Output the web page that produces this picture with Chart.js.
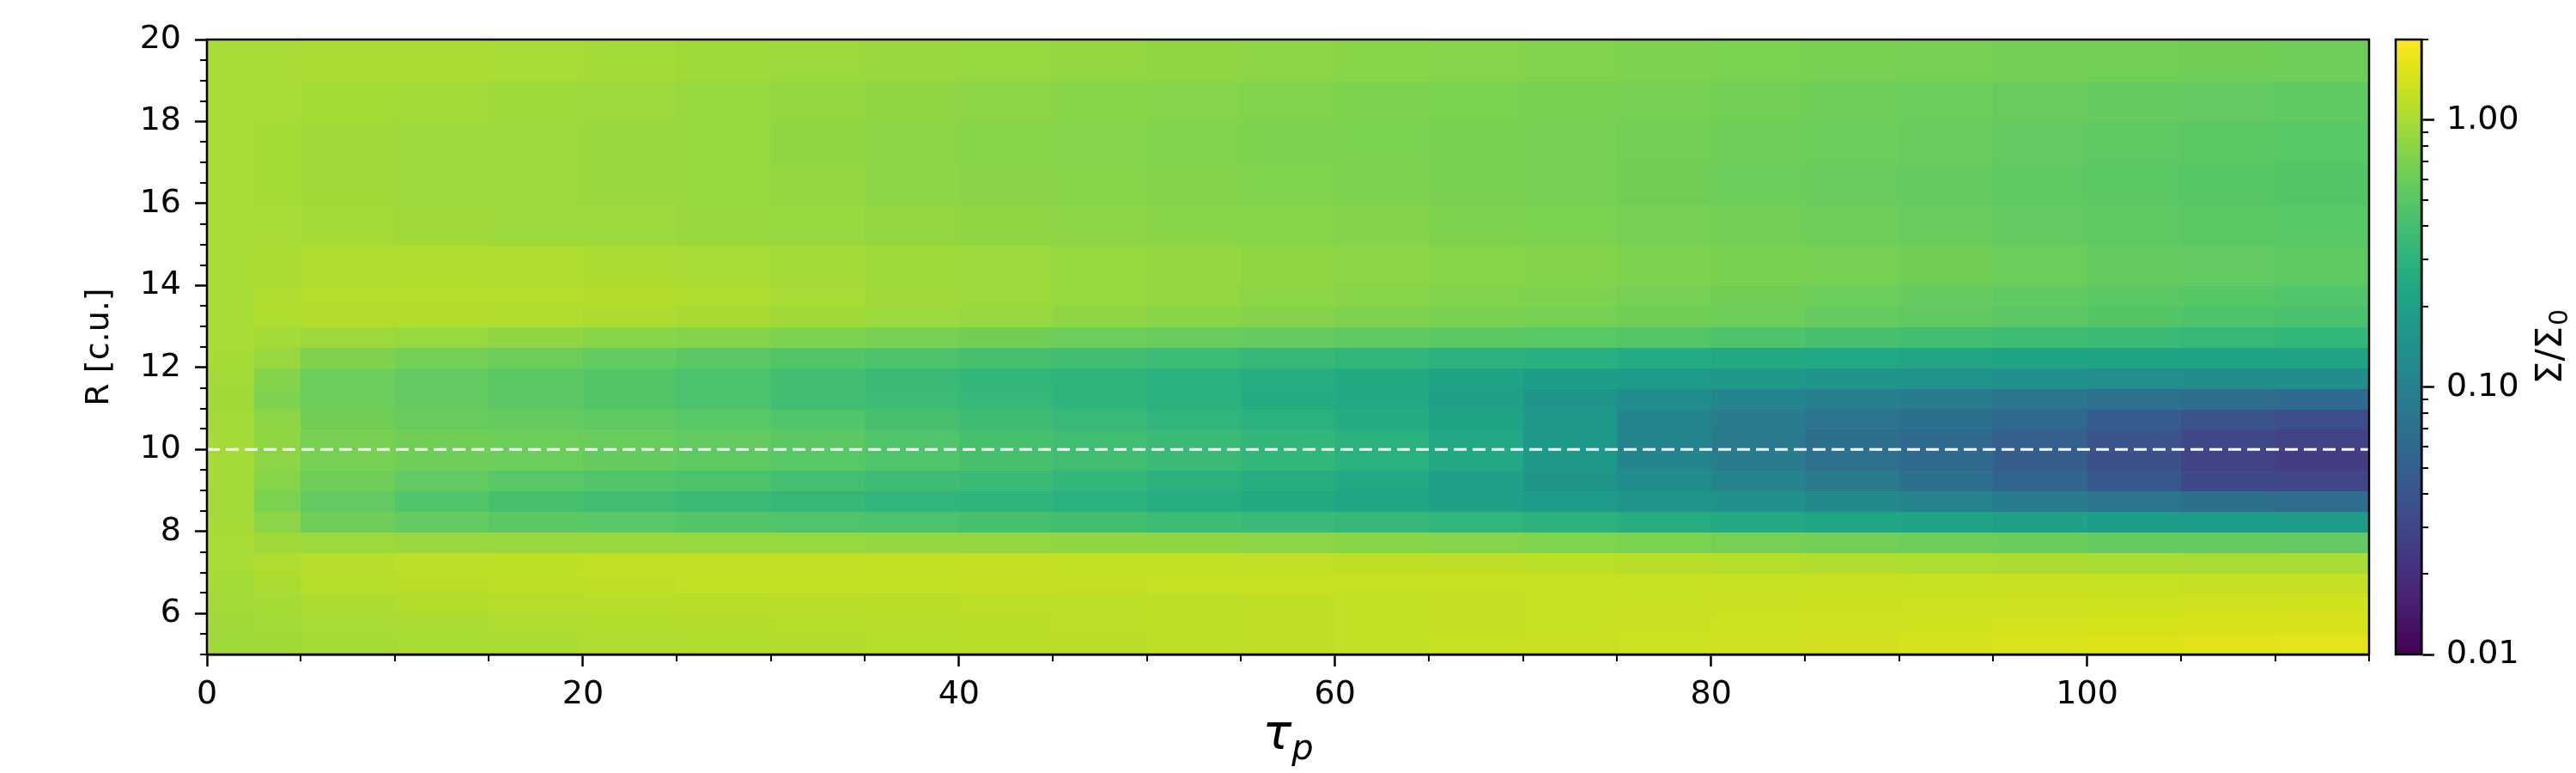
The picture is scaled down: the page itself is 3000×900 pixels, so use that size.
<!DOCTYPE html>
<html>
<head>
<meta charset="utf-8">
<script src="https://cdn.jsdelivr.net/npm/chart.js@4.4.1/dist/chart.umd.min.js"></script>
<style>
  html, body { margin: 0; padding: 0; background: #fff; }
  #wrap { position: relative; width: 3000px; height: 900px; }
  #heat { position: absolute; left: 0; top: 0; }
  #cbar { position: absolute; left: 2760px; top: 0; }
</style>
</head>
<body>
<div id="wrap">
  <canvas id="heat" width="2800" height="900"></canvas>
  <canvas id="cbar" width="240" height="900"></canvas>
</div>
<script>
// bin edges of the map: time (tau_p) and radius R [c.u.]
const tauEdges = [0, 2.5, 5, 10, 15, 20, 25, 30, 35, 40, 45, 50, 55, 60, 65, 70, 75, 80, 85, 90, 95, 100, 105, 110, 115];
const rEdges = [5, 5.5, 6, 6.5, 7, 7.5, 8, 8.5, 9, 9.5, 10, 10.5, 11, 11.5, 12, 12.5, 13, 13.5, 14, 15, 16, 17, 18, 19, 20];

// Sigma/Sigma_0 per cell, one row per R bin (bottom row first), one value per tau bin
const sigma = [
  [0.94, 0.95, 0.98, 1.0, 1.03, 1.05, 1.07, 1.09, 1.11, 1.13, 1.15, 1.18, 1.2, 1.23, 1.26, 1.29, 1.32, 1.35, 1.38, 1.42, 1.46, 1.5, 1.55, 1.6],
  [0.95, 0.96, 1.0, 1.03, 1.05, 1.07, 1.08, 1.1, 1.12, 1.14, 1.16, 1.18, 1.2, 1.22, 1.25, 1.27, 1.3, 1.32, 1.35, 1.37, 1.39, 1.41, 1.43, 1.45],
  [0.96, 0.98, 1.03, 1.08, 1.1, 1.12, 1.13, 1.14, 1.15, 1.16, 1.17, 1.18, 1.2, 1.22, 1.24, 1.26, 1.28, 1.3, 1.31, 1.32, 1.33, 1.34, 1.35, 1.36],
  [0.98, 1.02, 1.1, 1.15, 1.18, 1.2, 1.22, 1.23, 1.24, 1.25, 1.25, 1.26, 1.27, 1.28, 1.28, 1.28, 1.28, 1.28, 1.28, 1.28, 1.27, 1.26, 1.25, 1.25],
  [1.0, 1.05, 1.12, 1.17, 1.2, 1.22, 1.23, 1.23, 1.23, 1.23, 1.22, 1.22, 1.21, 1.2, 1.18, 1.16, 1.13, 1.1, 1.07, 1.05, 1.03, 1.02, 1.01, 1.0],
  [1.0, 0.95, 0.9, 0.88, 0.88, 0.88, 0.87, 0.86, 0.85, 0.84, 0.83, 0.82, 0.8, 0.78, 0.76, 0.73, 0.7, 0.67, 0.64, 0.61, 0.59, 0.57, 0.56, 0.55],
  [0.97, 0.8, 0.62, 0.56, 0.52, 0.5, 0.48, 0.46, 0.44, 0.42, 0.4, 0.38, 0.36, 0.34, 0.32, 0.3, 0.27, 0.25, 0.23, 0.22, 0.2, 0.19, 0.18, 0.18],
  [0.96, 0.7, 0.55, 0.47, 0.42, 0.39, 0.36, 0.34, 0.32, 0.31, 0.29, 0.27, 0.25, 0.23, 0.2, 0.18, 0.16, 0.14, 0.12, 0.105, 0.09, 0.08, 0.07, 0.065],
  [0.97, 0.76, 0.62, 0.55, 0.5, 0.47, 0.44, 0.41, 0.38, 0.36, 0.33, 0.3, 0.27, 0.24, 0.2, 0.16, 0.13, 0.105, 0.088, 0.07, 0.055, 0.042, 0.032, 0.03],
  [0.97, 0.8, 0.66, 0.62, 0.6, 0.57, 0.53, 0.5, 0.46, 0.42, 0.39, 0.36, 0.33, 0.29, 0.24, 0.17, 0.11, 0.09, 0.072, 0.06, 0.048, 0.036, 0.028, 0.026],
  [0.97, 0.82, 0.68, 0.63, 0.6, 0.58, 0.55, 0.52, 0.46, 0.42, 0.39, 0.36, 0.33, 0.29, 0.24, 0.17, 0.11, 0.085, 0.07, 0.06, 0.05, 0.04, 0.032, 0.028],
  [0.96, 0.8, 0.63, 0.58, 0.56, 0.54, 0.5, 0.47, 0.42, 0.38, 0.35, 0.32, 0.29, 0.26, 0.22, 0.17, 0.11, 0.09, 0.08, 0.07, 0.06, 0.047, 0.039, 0.035],
  [0.95, 0.72, 0.6, 0.55, 0.51, 0.48, 0.44, 0.4, 0.37, 0.34, 0.31, 0.29, 0.26, 0.24, 0.2, 0.16, 0.13, 0.11, 0.1, 0.09, 0.08, 0.072, 0.066, 0.063],
  [0.96, 0.75, 0.6, 0.55, 0.51, 0.48, 0.44, 0.4, 0.36, 0.33, 0.31, 0.29, 0.27, 0.25, 0.22, 0.19, 0.18, 0.17, 0.16, 0.15, 0.14, 0.135, 0.13, 0.13],
  [0.98, 0.88, 0.72, 0.65, 0.6, 0.56, 0.52, 0.48, 0.45, 0.42, 0.4, 0.37, 0.34, 0.32, 0.3, 0.28, 0.26, 0.25, 0.24, 0.23, 0.22, 0.22, 0.22, 0.22],
  [1.0, 0.97, 0.92, 0.86, 0.82, 0.78, 0.75, 0.71, 0.67, 0.63, 0.6, 0.58, 0.56, 0.54, 0.52, 0.5, 0.48, 0.45, 0.42, 0.4, 0.38, 0.36, 0.34, 0.33],
  [1.0, 1.05, 1.08, 1.08, 1.06, 1.03, 0.99, 0.95, 0.9, 0.86, 0.82, 0.78, 0.75, 0.72, 0.69, 0.66, 0.63, 0.6, 0.57, 0.54, 0.51, 0.48, 0.45, 0.43],
  [1.0, 1.05, 1.1, 1.1, 1.1, 1.08, 1.05, 1.0, 0.95, 0.91, 0.87, 0.84, 0.8, 0.77, 0.74, 0.71, 0.67, 0.63, 0.6, 0.57, 0.54, 0.51, 0.49, 0.47],
  [1.0, 1.02, 1.05, 1.06, 1.05, 1.03, 1.0, 0.97, 0.94, 0.9, 0.87, 0.85, 0.83, 0.8, 0.78, 0.75, 0.72, 0.69, 0.66, 0.63, 0.6, 0.57, 0.55, 0.53],
  [1.0, 1.0, 0.97, 0.95, 0.92, 0.9, 0.88, 0.86, 0.84, 0.82, 0.8, 0.78, 0.77, 0.75, 0.72, 0.7, 0.67, 0.64, 0.61, 0.58, 0.55, 0.53, 0.51, 0.5],
  [1.0, 0.98, 0.95, 0.92, 0.9, 0.88, 0.86, 0.84, 0.81, 0.79, 0.77, 0.75, 0.73, 0.71, 0.69, 0.66, 0.63, 0.6, 0.58, 0.56, 0.53, 0.51, 0.49, 0.48],
  [1.0, 0.98, 0.95, 0.92, 0.9, 0.88, 0.86, 0.83, 0.8, 0.78, 0.76, 0.74, 0.72, 0.7, 0.68, 0.66, 0.64, 0.62, 0.6, 0.58, 0.55, 0.53, 0.51, 0.5],
  [1.0, 1.0, 0.98, 0.96, 0.93, 0.9, 0.87, 0.84, 0.82, 0.8, 0.78, 0.76, 0.74, 0.72, 0.7, 0.68, 0.66, 0.64, 0.62, 0.6, 0.58, 0.56, 0.55, 0.54],
  [1.0, 1.0, 1.03, 1.03, 1.0, 0.97, 0.94, 0.91, 0.88, 0.86, 0.84, 0.82, 0.8, 0.78, 0.76, 0.74, 0.72, 0.7, 0.68, 0.66, 0.65, 0.64, 0.63, 0.62]
];

const gapRadius = 10;            // dashed line
const xTicks = [0, 20, 40, 60, 80, 100];
const yTicks = [6, 8, 10, 12, 14, 16, 18, 20];
const cbarTicks = [0.01, 0.1, 1];
const cbarMinor = [0.02, 0.03, 0.04, 0.05, 0.06, 0.07, 0.08, 0.09, 0.2, 0.3, 0.4, 0.5, 0.6, 0.7, 0.8, 0.9, 2];
const cbarMin = 0.01, cbarMax = 2;

const viridis = ['#440154', '#471365', '#482475', '#463480', '#414487', '#3b528b', '#355f8d',
  '#2f6c8e', '#2a788e', '#25848e', '#21918c', '#1e9c89', '#22a884', '#2fb47c', '#44bf70',
  '#5ec962', '#7ad151', '#9bd93c', '#bddf26', '#dfe318', '#fde725'];

Chart.defaults.font.family = '"DejaVu Sans", sans-serif';
Chart.defaults.font.size = 38;
Chart.defaults.color = '#000';

function hexRgb(h) {
  return [parseInt(h.slice(1, 3), 16), parseInt(h.slice(3, 5), 16), parseInt(h.slice(5, 7), 16)];
}
const viridisRgb = viridis.map(hexRgb);

function colorFor(v) {
  let t = (Math.log10(v) - Math.log10(cbarMin)) / (Math.log10(cbarMax) - Math.log10(cbarMin));
  t = Math.min(1, Math.max(0, t)) * (viridisRgb.length - 1);
  const i = Math.min(viridisRgb.length - 2, Math.floor(t));
  const f = t - i;
  const a = viridisRgb[i], b = viridisRgb[i + 1];
  return 'rgb(' + Math.round(a[0] + (b[0] - a[0]) * f) + ',' + Math.round(a[1] + (b[1] - a[1]) * f) + ',' + Math.round(a[2] + (b[2] - a[2]) * f) + ')';
}

const heatPlugin = {
  id: 'heat',
  beforeDatasetsDraw(chart) {
    const ctx = chart.ctx, xs = chart.scales.x, ys = chart.scales.y, area = chart.chartArea;
    ctx.save();
    ctx.beginPath();
    ctx.rect(area.left, area.top, area.right - area.left, area.bottom - area.top);
    ctx.clip();
    for (let i = 0; i < sigma.length; i++) {
      const yTop = Math.round(ys.getPixelForValue(rEdges[i + 1]));
      const yBot = Math.round(ys.getPixelForValue(rEdges[i]));
      for (let j = 0; j < sigma[i].length; j++) {
        const x0 = Math.round(xs.getPixelForValue(tauEdges[j]));
        const x1 = Math.round(xs.getPixelForValue(tauEdges[j + 1]));
        ctx.fillStyle = colorFor(sigma[i][j]);
        ctx.fillRect(x0, yTop, x1 - x0 + 1, yBot - yTop + 1);
      }
    }
    ctx.restore();
  },
  afterDraw(chart) {
    const ctx = chart.ctx, xs = chart.scales.x, ys = chart.scales.y, area = chart.chartArea;
    ctx.save();
    ctx.strokeStyle = '#000';
    ctx.lineWidth = 2.5;
    ctx.strokeRect(area.left, area.top, area.right - area.left, area.bottom - area.top);
    // minor ticks
    ctx.lineWidth = 2;
    ctx.beginPath();
    for (let r = 5; r <= 20; r += 0.5) {
      if (yTicks.includes(r)) continue;
      const py = Math.round(ys.getPixelForValue(r));
      ctx.moveTo(area.left - 8, py);
      ctx.lineTo(area.left, py);
    }
    for (let t = 5; t <= 115; t += 5) {
      if (xTicks.includes(t)) continue;
      const px = Math.round(xs.getPixelForValue(t));
      ctx.moveTo(px, area.bottom);
      ctx.lineTo(px, area.bottom + 8);
    }
    ctx.stroke();
    // axis titles
    ctx.fillStyle = '#000';
    ctx.textAlign = 'center';
    ctx.textBaseline = 'middle';
    ctx.font = '38px "DejaVu Sans"';
    ctx.save();
    ctx.translate(116, (area.top + area.bottom) / 2);
    ctx.rotate(-Math.PI / 2);
    ctx.fillText('R [c.u.]', 0, 0);
    ctx.restore();
    ctx.textAlign = 'left';
    ctx.textBaseline = 'alphabetic';
    ctx.font = 'italic 56px "DejaVu Sans"';
    const wTau = ctx.measureText('τ').width;
    ctx.font = 'italic 40px "DejaVu Sans"';
    const wP = ctx.measureText('p').width;
    const cx = (area.left + area.right) / 2;
    const x0 = cx - (wTau + wP) / 2;
    ctx.font = 'italic 56px "DejaVu Sans"';
    ctx.fillText('τ', x0, 872);
    ctx.font = 'italic 40px "DejaVu Sans"';
    ctx.fillText('p', x0 + wTau, 884);
    ctx.restore();
  }
};

new Chart(document.getElementById('heat'), {
  type: 'scatter',
  data: {
    datasets: [{
      type: 'line',
      data: [{ x: tauEdges[0], y: gapRadius }, { x: tauEdges[tauEdges.length - 1], y: gapRadius }],
      borderColor: '#ffffff',
      borderWidth: 3,
      borderDash: [15, 7],
      pointRadius: 0,
      fill: false
    }]
  },
  options: {
    responsive: false,
    animation: false,
    devicePixelRatio: 1,
    layout: { padding: { top: 46, right: 41, left: 0, bottom: 0 } },
    plugins: { legend: { display: false }, tooltip: { enabled: false } },
    scales: {
      x: {
        type: 'linear', min: tauEdges[0], max: tauEdges[tauEdges.length - 1],
        afterBuildTicks: s => { s.ticks = xTicks.map(v => ({ value: v })); },
        afterFit: s => { s.height = 138; },
        ticks: { padding: 10, maxRotation: 0, autoSkip: false, color: '#000' },
        grid: { drawOnChartArea: false, drawTicks: true, tickLength: 14, tickWidth: 2.5, tickColor: '#000' },
        border: { display: true, color: '#000', width: 2.5 }
      },
      y: {
        type: 'linear', min: rEdges[0], max: rEdges[rEdges.length - 1],
        afterBuildTicks: s => { s.ticks = yTicks.map(v => ({ value: v })); },
        afterFit: s => { s.width = 241; },
        ticks: { padding: 16, autoSkip: false, color: '#000' },
        grid: { drawOnChartArea: false, drawTicks: true, tickLength: 14, tickWidth: 2.5, tickColor: '#000' },
        border: { display: true, color: '#000', width: 2.5 }
      }
    }
  },
  plugins: [heatPlugin]
});

const cbarPlugin = {
  id: 'cbar',
  afterDraw(chart) {
    const ctx = chart.ctx, ys = chart.scales.y, area = chart.chartArea;
    ctx.save();
    for (let py = Math.floor(area.top); py < area.bottom; py++) {
      ctx.fillStyle = colorFor(ys.getValueForPixel(py + 0.5));
      ctx.fillRect(area.left, py, area.right - area.left, 1);
    }
    ctx.strokeStyle = '#000';
    ctx.lineWidth = 2.5;
    ctx.strokeRect(area.left, area.top, area.right - area.left, area.bottom - area.top);
    ctx.lineWidth = 2;
    ctx.beginPath();
    cbarMinor.forEach(v => {
      const py = Math.round(ys.getPixelForValue(v));
      ctx.moveTo(area.right, py);
      ctx.lineTo(area.right + 8, py);
    });
    ctx.stroke();
    // colorbar label Sigma/Sigma_0, read bottom to top
    ctx.fillStyle = '#000';
    ctx.translate(212, (area.top + area.bottom) / 2);
    ctx.rotate(-Math.PI / 2);
    ctx.textBaseline = 'middle';
    ctx.textAlign = 'left';
    ctx.font = '42px "DejaVu Sans"';
    const wMain = ctx.measureText('Σ/Σ').width;
    ctx.font = '30px "DejaVu Sans"';
    const wSub = ctx.measureText('0').width;
    const sx = -(wMain + wSub) / 2;
    ctx.font = '42px "DejaVu Sans"';
    ctx.fillText('Σ/Σ', sx, 0);
    ctx.font = '30px "DejaVu Sans"';
    ctx.fillText('0', sx + wMain + 1, 10);
    ctx.restore();
  }
};

new Chart(document.getElementById('cbar'), {
  type: 'scatter',
  data: { datasets: [] },
  options: {
    responsive: false,
    animation: false,
    devicePixelRatio: 1,
    layout: { padding: { top: 46, right: 0, left: 30, bottom: 138 } },
    plugins: { legend: { display: false }, tooltip: { enabled: false } },
    scales: {
      x: { display: false, min: 0, max: 1 },
      y: {
        type: 'logarithmic', position: 'right', min: cbarMin, max: cbarMax,
        afterBuildTicks: s => { s.ticks = cbarTicks.map(v => ({ value: v })); },
        afterFit: s => { s.width = 180; },
        ticks: { padding: 14, color: '#000', callback: v => Number(v).toFixed(2) },
        grid: { drawOnChartArea: false, drawTicks: true, tickLength: 15, tickWidth: 2.5, tickColor: '#000' },
        border: { display: true, color: '#000', width: 2.5 }
      }
    }
  },
  plugins: [cbarPlugin]
});
</script>
</body>
</html>
